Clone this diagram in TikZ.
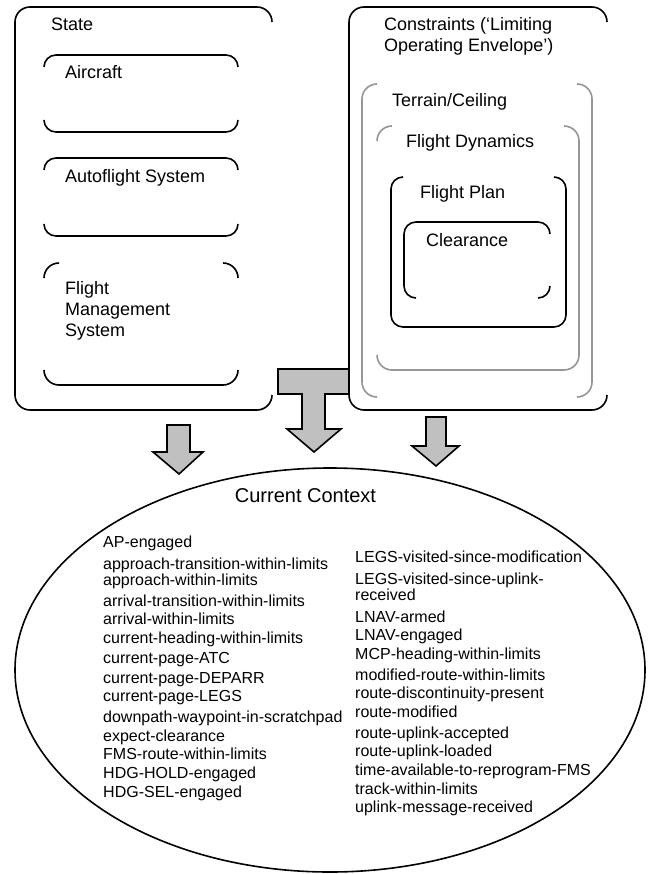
\documentclass[tikz,border=0pt]{standalone}
\usepackage{fontspec}
\setmainfont{Liberation Sans}
\definecolor{arrowgray}{RGB}{192,192,192}
\definecolor{boxgray}{RGB}{150,150,150}
\begin{document}
\begin{tikzpicture}[x=1pt,y=-1pt,
  blk/.style={draw=black, line width=1.6pt},
  gry/.style={draw=boxgray, line width=1.6pt},
  barrow/.style={fill=arrowgray, draw=black, line width=1.6pt, line join=miter},
  lbl/.style={anchor=base west, inner sep=0pt, font=\fontsize{18}{20}\selectfont},
  item/.style={anchor=base west, inner sep=0pt, font=\fontsize{16}{18}\selectfont},
  ctxlbl/.style={anchor=base, inner sep=0pt, font=\fontsize{20}{22}\selectfont}]
\useasboundingbox (0,0) rectangle (647,874);

% block arrows
\draw[barrow] (167,425) -- (190,425) -- (190,452) -- (203,452) -- (179,474) -- (153,452) -- (167,452) -- cycle;
\draw[barrow] (278,369) -- (349,369) -- (349,394) -- (325,394) -- (325,429) -- (341,429) -- (314,452) -- (287,429) -- (302,429) -- (302,394) -- (278,394) -- cycle;
\draw[barrow] (426,417) -- (446,417) -- (446,446) -- (459,446) -- (436,466) -- (412,446) -- (426,446) -- cycle;

% State box
\draw[blk, rounded corners=15pt] (272,22) -- (272,7) -- (15,7) -- (15,410) -- (272,410) -- (272,395);
\node[lbl] (state) at (51,30.5) {State};
% Aircraft
\draw[blk, rounded corners=12pt] (44,67) -- (44,55) -- (238,55) -- (238,67);
\draw[blk, rounded corners=12pt] (44,120) -- (44,132) -- (238,132) -- (238,120);
\node[lbl] (aircraft) at (65,78.5) {Aircraft};
% Autoflight
\draw[blk, rounded corners=12pt] (44,170) -- (44,158) -- (238,158) -- (238,170);
\draw[blk, rounded corners=12pt] (44,224) -- (44,236) -- (238,236) -- (238,224);
\node[lbl] (afs) at (65,182.5) {Autoflight System};
% FMS
\draw[blk, rounded corners=15pt] (44,278) -- (44,263) -- (59,263);
\draw[blk, rounded corners=15pt] (223,263) -- (238,263) -- (238,278);
\draw[blk, rounded corners=15pt] (44,370) -- (44,385) -- (238,385) -- (238,370);
\node[lbl] (fms1) at (65,294.5) {Flight};
\node[lbl] (fms2) at (65,315.5) {Management};
\node[lbl] (fms3) at (65,336.5) {System};

% Constraints box
\draw[blk, rounded corners=15pt] (607,22) -- (607,7) -- (349,7) -- (349,410) -- (607,410) -- (607,395);
\node[lbl] (cons1) at (384,30.5) {Constraints (‘Limiting};
\node[lbl] (cons2) at (384,51.5) {Operating Envelope’)};
% Terrain/Ceiling
\draw[gry, rounded corners=15pt] (377,84) -- (362,84) -- (362,397) -- (377,397);
\draw[gry, rounded corners=15pt] (577,84) -- (592,84) -- (592,397) -- (577,397);
\node[lbl] (terrain) at (392,106.5) {Terrain/Ceiling};
% Flight Dynamics
\draw[gry, rounded corners=15pt] (377,141) -- (377,126) -- (392,126);
\draw[gry, rounded corners=15pt] (564,126) -- (579,126) -- (579,370) -- (377,370) -- (377,355);
\node[lbl] (fdyn) at (406,147.5) {Flight Dynamics};
% Flight Plan
\draw[blk, rounded corners=12pt] (403,177) -- (391,177) -- (391,327) -- (566,327) -- (566,177) -- (554,177);
\node[lbl] (fplan) at (420,198.5) {Flight Plan};
% Clearance
\draw[blk, rounded corners=12pt] (416,298) -- (404,298) -- (404,222) -- (550,222) -- (550,234);
\draw[blk, rounded corners=12pt] (550,286) -- (550,298) -- (538,298);
\node[lbl] (clear) at (426,246.5) {Clearance};

% Current context
\draw[line width=1.6pt] (330,670) ellipse [x radius=315pt, y radius=202pt];
\node[ctxlbl] (ctx) at (305.5,502) {Current Context};

\node[item] (l1) at (103,547.5) {AP-engaged};
\node[item] (l2) at (103,569.5) {approach-transition-within-limits};
\node[item] (l3) at (103,585.5) {approach-within-limits};
\node[item] (l4) at (103,606.5) {arrival-transition-within-limits};
\node[item] (l5) at (103,624.5) {arrival-within-limits};
\node[item] (l6) at (103,643.5) {current-heading-within-limits};
\node[item] (l7) at (103,663.5) {current-page-ATC};
\node[item] (l8) at (103,683.5) {current-page-DEPARR};
\node[item] (l9) at (103,701.5) {current-page-LEGS};
\node[item] (l10) at (103,722.5) {downpath-waypoint-in-scratchpad};
\node[item] (l11) at (103,741.5) {expect-clearance};
\node[item] (l12) at (103,759.5) {FMS-route-within-limits};
\node[item] (l13) at (103,778.5) {HDG-HOLD-engaged};
\node[item] (l14) at (103,797.5) {HDG-SEL-engaged};

\node[item] (r1) at (355,562.7) {LEGS-visited-since-modification};
\node[item] (r2) at (355,584.7) {LEGS-visited-since-uplink-};
\node[item] (r3) at (355,600.5) {received};
\node[item] (r4) at (355,622.7) {LNAV-armed};
\node[item] (r5) at (355,640.7) {LNAV-engaged};
\node[item] (r6) at (355,659.7) {MCP-heading-within-limits};
\node[item] (r7) at (355,680.7) {modified-route-within-limits};
\node[item] (r8) at (355,698.7) {route-discontinuity-present};
\node[item] (r9) at (355,717.7) {route-modified};
\node[item] (r10) at (355,738.7) {route-uplink-accepted};
\node[item] (r11) at (355,756.7) {route-uplink-loaded};
\node[item] (r12) at (355,775.7) {time-available-to-reprogram-FMS};
\node[item] (r13) at (355,794.7) {track-within-limits};
\node[item] (r14) at (355,812.7) {uplink-message-received};
\end{tikzpicture}
\end{document}
